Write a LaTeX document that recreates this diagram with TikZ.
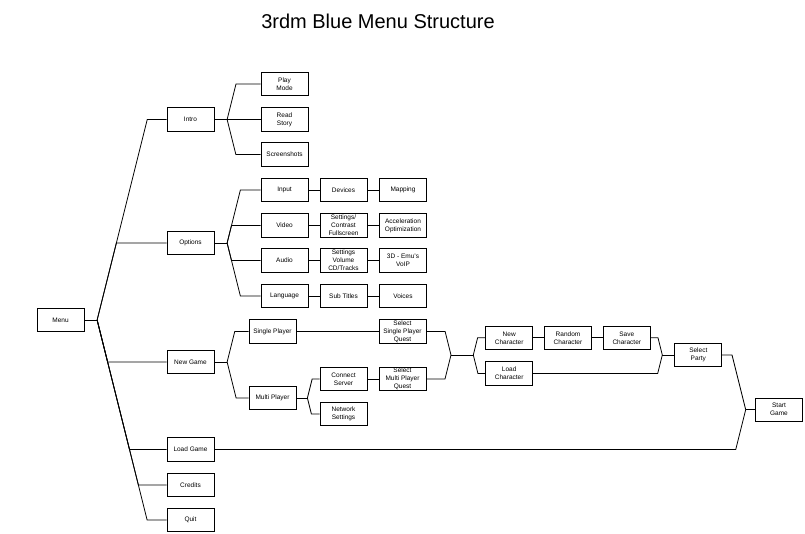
\documentclass[tikz,border=0pt]{standalone}
\usepackage{fontspec}
\setmainfont{Liberation Sans}
\usepackage{tikz}
\usetikzlibrary{positioning,calc}

\begin{document}
\begin{tikzpicture}[x=1pt,y=-1pt,
    box/.style={draw,line width=0.8pt,minimum width=47pt,minimum height=23.5pt,
        inner sep=0pt,align=center,font=\fontsize{6.5}{8}\selectfont},
    link/.style={line width=0.8pt}]
            \useasboundingbox (0,0) rectangle (805,534);

            \node[anchor=base,font=\fontsize{20}{24}\selectfont] (title) at (378,28.5) {3rdm Blue Menu Structure};

            % main menu
            \node[box] (menu) at (60.5,320) {Menu};
            \node[box] (intro) at (190.5,119.5) {Intro};
            \node[box] (options) at (190.5,243) {Options};
            \node[box] (newgame) at (190.5,362) {New Game};
            \node[box] (loadgame) at (190.5,449.5) {Load Game};
            \node[box] (credits) at (190.5,485) {Credits};
            \node[box] (quit) at (190.5,520) {Quit};

            % intro
            \node[box] (playmode) at (284.5,84) {Play\\Mode};
            \node[box] (readstory) at (284.5,119.5) {Read\\Story};
            \node[box] (screenshots) at (284.5,154.5) {Screenshots};

            % options
            \node[box] (input) at (284.5,190) {Input};
            \node[box] (devices) at (343.5,190) {Devices};
            \node[box] (mapping) at (403,190) {Mapping};
            \node[box] (video) at (284.5,225.5) {Video};
            \node[box] (vidsettings) at (343.5,225.5) {Settings/\\Contrast\\Fullscreen};
            \node[box] (accel) at (403,225.5) {Acceleration\\Optimization};
            \node[box] (audio) at (284.5,260.5) {Audio};
            \node[box] (audsettings) at (343.5,260.5) {Settings\\Volume\\CD/Tracks};
            \node[box] (voip) at (403,260.5) {3D - Emu's\\VoIP};
            \node[box] (language) at (284.5,296) {Language};
            \node[box] (subtitles) at (343.5,296) {Sub Titles};
            \node[box] (voices) at (403,296) {Voices};

            % new game
            \node[box] (single) at (272.5,331.5) {Single Player};
            \node[box] (multi) at (272.5,398) {Multi Player};
            \node[box] (connect) at (343.5,379) {Connect\\Server};
            \node[box] (network) at (343.5,414) {Network\\Settings};
            \node[box] (selsingle) at (402.5,331.5) {Select\\Single Player\\Quest};
            \node[box] (selmulti) at (402.5,379) {Select\\Multi Player\\Quest};
            \node[box] (newchar) at (509.2,337.8) {New\\Character};
            \node[box] (randchar) at (568,337.8) {Random\\Character};
            \node[box] (savechar) at (626.8,337.8) {Save\\Character};
            \node[box] (loadchar) at (509.2,373.5) {Load\\Character};
            \node[box] (party) at (698.3,355) {Select\\Party};
            \node[box] (start) at (779,409.7) {Start\\Game};

            \coordinate (jmenu) at ($(menu.east)+(12.7,0)$);
            \coordinate (jintro) at ($(intro.east)+(12.7,0)$);
            \coordinate (joptions) at ($(options.east)+(12.7,0)$);
            \coordinate (jnewgame) at ($(newgame.east)+(12.7,0)$);
            \coordinate (jmulti) at ($(multi.east)+(11,0)$);
            \coordinate (jquest) at (451,355);
            \coordinate (jchar) at (473.3,355);
            \coordinate (jparty) at (662.3,355);
            \coordinate (jstart) at (745.7,409.7);

            % forks
            \draw[link] (menu) -- (jmenu);
            \draw[link] (intro) -- (jintro);
            \draw[link] (options) -- (joptions);
            \draw[link] (newgame) -- (jnewgame);
            \draw[link] (multi) -- (jmulti);
            \draw[link] (jquest) -- (jchar);
            \draw[link] (jparty) -- (party);
            \draw[link] (jstart) -- (start);
            \foreach \j/\c in {jmenu/intro,jmenu/options,jmenu/newgame,jmenu/loadgame,jmenu/credits,jmenu/quit,
                    jintro/playmode,jintro/readstory,jintro/screenshots,
                    joptions/input,joptions/video,joptions/audio,joptions/language,
                    jnewgame/single,jnewgame/multi,jmulti/connect,jmulti/network,
                    jchar/newchar,jchar/loadchar}
                \draw[link] let \p1=(\j), \p2=(\c.west) in (\p1) -- ({\x1+0.25*abs(\y2-\y1)},\y2) -- (\p2);

            % merges
            \foreach \j/\c in {jquest/selsingle,jquest/selmulti,jparty/savechar,jparty/loadchar,
                    jstart/party,jstart/loadgame}
                \draw[link] let \p1=(\j), \p2=(\c.east) in (\p2) -- ({\x1-0.25*abs(\y2-\y1)},\y2) -- (\p1);

            % rows
            \draw[link] (input) -- (devices);
            \draw[link] (devices) -- (mapping);
            \draw[link] (video) -- (vidsettings);
            \draw[link] (vidsettings) -- (accel);
            \draw[link] (audio) -- (audsettings);
            \draw[link] (audsettings) -- (voip);
            \draw[link] (language) -- (subtitles);
            \draw[link] (subtitles) -- (voices);
            \draw[link] (single) -- (selsingle);
            \draw[link] (connect) -- (selmulti);
            \draw[link] (newchar) -- (randchar);
            \draw[link] (randchar) -- (savechar);
\end{tikzpicture}
\end{document}
